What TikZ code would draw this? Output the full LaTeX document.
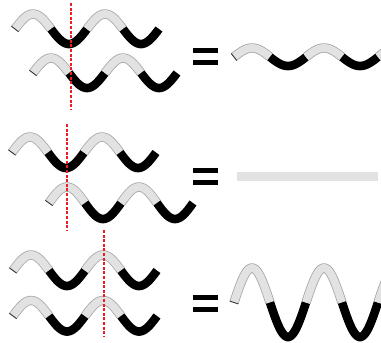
\documentclass[tikz,border=0pt]{standalone}
\begin{document}
\definecolor{gfill}{HTML}{E2E2E2}
\definecolor{gout}{HTML}{A6A6A6}
\definecolor{redline}{HTML}{EE1C25}
\tikzset{
  greyseg/.style={line width=#1},
  redcut/.style={redline, line width=1.3pt, dash pattern=on 3pt off 1.6pt},
  eqbar/.style={fill=black, draw=none},
}
% #1 x0, #2 yc, #3 amplitude, #4 number of half waves
\newcommand\drawwave[4]{%
  \foreach \k in {1,...,#4} {
    \pgfmathsetmacro\xa{#1+(\k-1)*36}
    \pgfmathsetmacro\xb{#1+\k*36}
    \ifodd\k
      \draw[gout, line width=9.4pt] plot[domain=\xa:\xb, samples=30, smooth] (\x,{#2-#3*sin((\x-#1)*5)});
      \draw[gfill, line width=7.8pt] plot[domain=\xa:\xb, samples=30, smooth] (\x,{#2-#3*sin((\x-#1)*5)});
    \else
      \draw[black, line width=8.6pt] plot[domain=\xa:\xb, samples=30, smooth] (\x,{#2-#3*sin((\x-#1)*5)});
    \fi
  }
  \pgfmathsetmacro\sl{#3*2*pi/72}
  \pgfmathsetmacro\nn{sqrt(1+\sl*\sl)}
  \pgfmathsetmacro\ddx{4.5*\sl/\nn}
  \pgfmathsetmacro\ddy{4.5/\nn}
  \draw[black!80, line width=0.9pt] (#1-\ddx,#2-\ddy) -- (#1+\ddx,#2+\ddy);
}
\begin{tikzpicture}[x=1pt,y=-1pt]
\useasboundingbox (0,0) rectangle (381,343);
\clip (0,0) rectangle (381,343);
\fill[white] (0,0) rectangle (381,343);

% row 1
\drawwave{15}{29}{15}{4}
\drawwave{33}{73}{15}{4}
\coordinate (r1t) at (71,3);
\coordinate (r1b) at (71,110);
\draw[redcut] (r1t) -- (r1b);
\fill[eqbar] (193,48) rectangle (218,53);
\fill[eqbar] (193,60) rectangle (218,65);
\drawwave{234}{57}{9}{5}

% row 2
\drawwave{12}{152.5}{15.5}{4}
\drawwave{49}{203}{16}{4}
\coordinate (r2t) at (67,124);
\coordinate (r2b) at (67,231);
\draw[redcut] (r2t) -- (r2b);
\fill[eqbar] (193,168) rectangle (218,173);
\fill[eqbar] (193,180) rectangle (218,185);
\fill[gfill] (237,172) rectangle (378,181);

% row 3
\drawwave{13}{270.5}{15.5}{4}
\drawwave{13}{316}{15.5}{4}
\coordinate (r3t) at (104,230);
\coordinate (r3b) at (104,336);
\draw[redcut] (r3t) -- (r3b);
\fill[eqbar] (193,295) rectangle (218,300);
\fill[eqbar] (193,307) rectangle (218,312);
\drawwave{234}{302.5}{34.5}{5}
\end{tikzpicture}
\end{document}
